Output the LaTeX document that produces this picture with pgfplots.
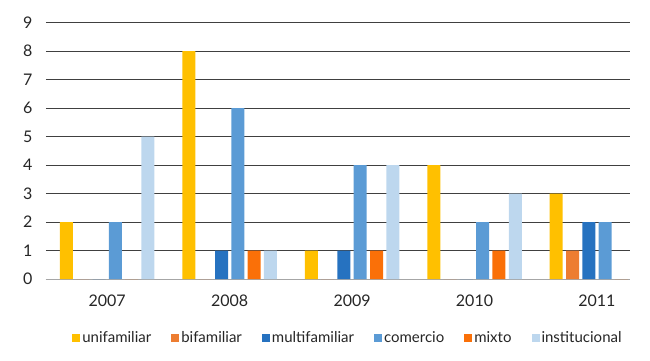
\documentclass[border=0pt]{standalone}
\usepackage{fontspec}
\setmainfont{Lato}
\usepackage{pgfplots}
\pgfplotsset{compat=1.18}
\definecolor{cUni}{HTML}{FFC000}
\definecolor{cBi}{HTML}{ED7D31}
\definecolor{cMulti}{HTML}{2672C0}
\definecolor{cCom}{HTML}{5B9BD5}
\definecolor{cMix}{HTML}{FA7008}
\definecolor{cInst}{HTML}{BDD7EE}
\definecolor{gridc}{HTML}{404040}
\begin{document}
\begin{tikzpicture}[x=1pt,y=1pt]
\useasboundingbox (0,0) rectangle (650,361);
\begin{axis}[
  at={(46pt,82pt)}, anchor=south west,
  scale only axis, width=584pt, height=256.5pt,
  ybar=3.3pt, bar width=13pt,
  xmin=-0.5, xmax=4.27, ymin=0, ymax=9,
  xtick={0,1,2,3,4}, xticklabels={2007,2008,2009,2010,2011},
  ytick={0,1,...,9},
  major tick length=0pt,
  ymajorgrids, grid style={gridc, line width=0.8pt},
  separate axis lines,
  axis x line*=bottom,
  x axis line style={draw=gray!70, line width=0.8pt, -},
  y axis line style={draw=none},
  axis y line*=left,
  tick label style={font=\fontsize{16}{18}\selectfont, text=black!85},
  /pgf/number format/assume math mode=true,
  xticklabel style={yshift=-12pt},
  yticklabel style={xshift=-10pt},
  legend style={at={(0.517,-0.23)}, anchor=center, draw=none, legend columns=6,
    font=\fontsize{15}{17}\selectfont, text=black!85,
    /tikz/every even column/.append style={column sep=18pt}},
  legend image code/.code={\fill[#1] (0pt,-4pt) rectangle (8pt,4pt);},
  every axis plot/.append style={draw=none},
]
\addplot[fill=cUni] coordinates {(0,2) (1,8) (2,1) (3,4) (4,3)};
\addplot[fill=cBi] coordinates {(0,0) (1,0) (2,0) (3,0) (4,1)};
\addplot[fill=cMulti] coordinates {(0,0) (1,1) (2,1) (3,0) (4,2)};
\addplot[fill=cCom] coordinates {(0,2) (1,6) (2,4) (3,2) (4,2)};
\addplot[fill=cMix] coordinates {(0,0) (1,1) (2,1) (3,1) (4,0)};
\addplot[fill=cInst] coordinates {(0,5) (1,1) (2,4) (3,3) (4,0)};
\legend{unifamiliar,bifamiliar,multifamiliar,comercio,mixto,institucional}
\end{axis}
\end{tikzpicture}
\end{document}
